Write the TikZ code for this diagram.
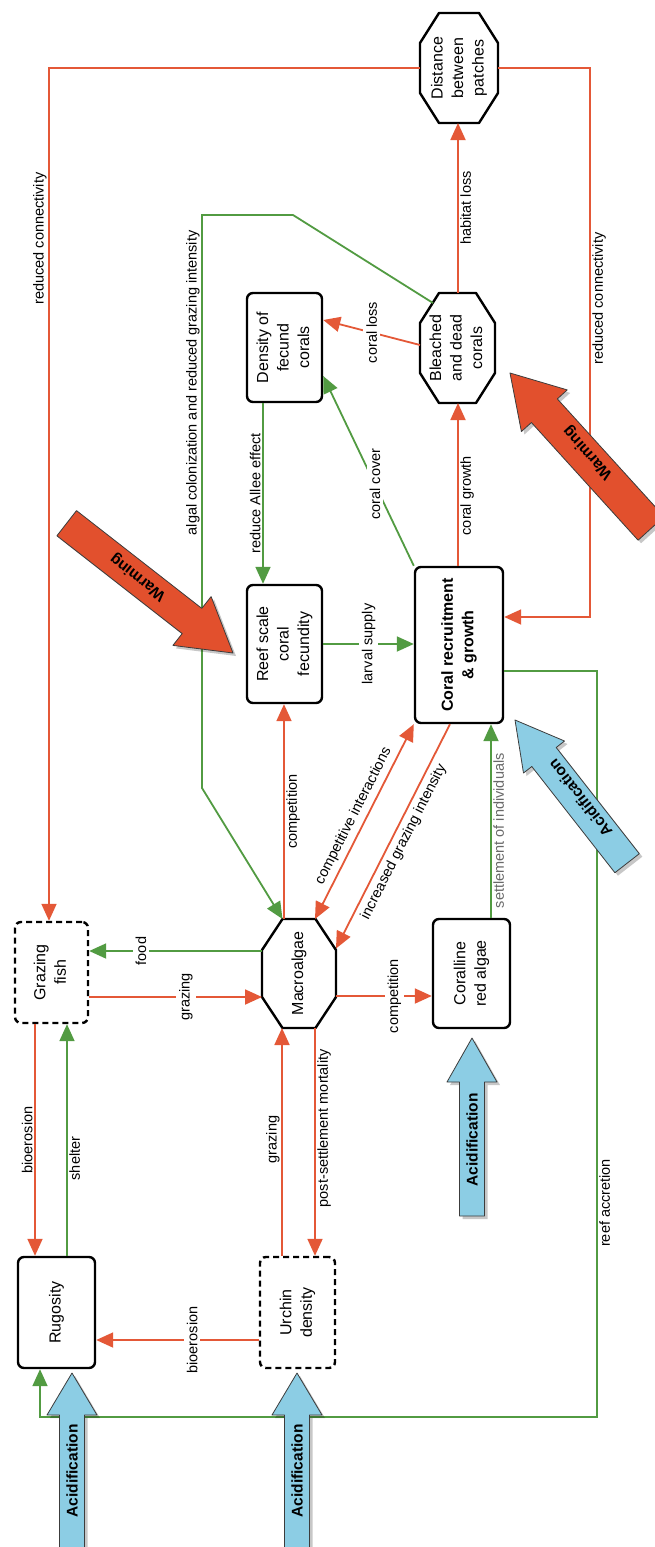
\documentclass[tikz,border=0pt]{standalone}
\usepackage{fontspec}
\setmainfont{Liberation Sans}
\usetikzlibrary{arrows.meta,calc}
\definecolor{cred}{RGB}{228,88,55}
\definecolor{cgreen}{RGB}{82,155,66}
\definecolor{warmfill}{RGB}{226,80,45}
\definecolor{acidfill}{RGB}{140,205,228}
\definecolor{graytext}{RGB}{105,105,105}
\definecolor{edgegray}{RGB}{60,60,60}
\newcommand{\nodefont}{\fontsize{16}{20.5}\selectfont}
\newcommand{\labfont}{\fontsize{14.5}{17}\selectfont}
\newcommand{\rtxt}[1]{\rotatebox{90}{#1}}
\newcommand{\mlines}[1]{\rotatebox{90}{\begin{tabular}{@{}c@{}}#1\end{tabular}}}
\newcommand{\octdraw}[3]{%
  \draw[octline] ($(#1.north west)+(#2,0)$) -- ($(#1.north east)+(-#2,0)$)
    -- ($(#1.north east)+(0,#3)$) -- ($(#1.south east)+(0,-#3)$)
    -- ($(#1.south east)+(-#2,0)$) -- ($(#1.south west)+(#2,0)$)
    -- ($(#1.south west)+(0,-#3)$) -- ($(#1.north west)+(0,#3)$) -- cycle;}
\tikzset{
  >={Triangle[length=17pt,width=15pt]},
  box/.style={draw, line width=2.4pt, rounded corners=6pt, inner sep=0pt, font=\nodefont},
  dbox/.style={box, dash pattern=on 6pt off 4pt},
  octnode/.style={inner sep=0pt, outer sep=0pt, font=\nodefont},
  octline/.style={draw, line width=2.4pt, line join=round},
  con/.style={line width=1.8pt},
  rarr/.style={con, color=cred, ->},
  garr/.style={con, color=cgreen, ->},
  lab/.style={font=\labfont, text=black, inner sep=1.5pt},
  onlab/.style={lab, fill=white, inner sep=3pt},
  blockw/.style={fill=warmfill, draw=edgegray, line width=0.8pt, line join=round},
  blocka/.style={fill=acidfill, draw=edgegray, line width=0.8pt, line join=round},
  shad/.style={fill=black, opacity=0.22, shift={(3,3)}},
  blocktext/.style={font=\fontsize{15.5}{18}\selectfont\bfseries, text=black, inner sep=0pt},
}
\begin{document}
\begin{tikzpicture}[x=1pt, y=-1pt]
\useasboundingbox (0,0) rectangle (654,1547);
\fill[white] (0,0) rectangle (654,1547);

% ---------- nodes ----------
\node[octnode, minimum width=78pt, minimum height=110pt] (dist) at (459,68) {\mlines{Distance\\between\\patches}};
\octdraw{dist}{19}{30}
\node[octnode, minimum width=75pt, minimum height=110pt] (bleach) at (457.5,348) {\mlines{Bleached\\and dead\\corals}};
\octdraw{bleach}{19}{30}
\node[box, minimum width=75pt, minimum height=109pt] (dens) at (284.5,347.5) {\mlines{Density of\\fecund\\corals}};
\node[box, minimum width=75pt, minimum height=118pt] (reef) at (284.5,644) {\mlines{Reef scale\\coral\\fecundity}};
\node[box, minimum width=88pt, minimum height=156pt, font=\nodefont\bfseries] (coral) at (459,645) {\mlines{Coral recruitment\\\& growth}};
\node[dbox, minimum width=73pt, minimum height=101pt] (fish) at (51.5,972.5) {\mlines{Grazing\\fish}};
\node[octnode, minimum width=74pt, minimum height=109pt] (macro) at (299,973.5) {\rtxt{Macroalgae}};
\octdraw{macro}{20.5}{31}
\node[box, minimum width=77pt, minimum height=109pt] (coralline) at (471.5,973.5) {\mlines{Coralline\\red algae}};
\node[box, minimum width=77pt, minimum height=111pt] (rug) at (56.5,1312.5) {\rtxt{Rugosity}};
\node[dbox, minimum width=75pt, minimum height=111pt] (urchin) at (297.5,1312.5) {\mlines{Urchin\\density}};

% ---------- red connectors ----------
\draw[rarr] (dist.west) -- (49,68) -- node[lab, left, pos=0.2]{\rtxt{reduced connectivity}} (fish.north -| 49,0);
\draw[rarr] (dist.east) -- (590,68) -- node[lab, right, pos=0.42]{\rtxt{reduced connectivity}} (590,617) -- (coral.east |- 0,617);
\draw[rarr] (bleach.north -| 458,0) -- node[lab, right]{\rtxt{habitat loss}} (dist.south -| 458,0);
\draw[rarr] (bleach.west |- 0,345) -- node[onlab]{\rtxt{coral loss}} (dens.east |- 0,320);
\draw[rarr] (coral.north -| 458,0) -- node[lab, right, pos=0.43]{\rtxt{coral growth}} (bleach.south -| 458,0);
\draw[rarr] (macro.north -| 284,0) -- node[lab, right]{\rtxt{competition}} (reef.south -| 284,0);
\draw[rarr, <->] ([xshift=16pt]macro.north) -- node[lab, sloped, above=3pt]{competitive interactions} (coral.south west);
\draw[rarr, <-] ([yshift=25pt]macro.east) -- node[lab, sloped, below=3pt]{increased grazing intensity} ([xshift=-9pt]coral.south);
\draw[rarr] (fish.east |- 0,997) -- node[onlab, pos=0.56]{\rtxt{grazing}} (macro.west |- 0,997);
\draw[rarr] (macro.east |- 0,996) -- node[onlab, pos=0.61]{\rtxt{competition}} (coralline.west |- 0,996);
\draw[rarr] (fish.south -| 35,0) -- node[lab, left]{\rtxt{bioerosion}} (rug.north -| 35,0);
\draw[rarr] (urchin.north -| 282,0) -- node[lab, left, pos=0.51]{\rtxt{grazing}} (macro.south -| 282,0);
\draw[rarr] (macro.south -| 315,0) -- node[lab, right, pos=0.44]{\rtxt{post-settlement mortality}} (urchin.north -| 315,0);
\draw[rarr] (urchin.west |- 0,1340) -- node[onlab, pos=0.41]{\rtxt{bioerosion}} (rug.east |- 0,1340);

% ---------- green connectors ----------
\draw[garr] (rug.north -| 67,0) -- node[lab, right, pos=0.42]{\rtxt{shelter}} (fish.south -| 67,0);
\draw[garr] (dens.south -| 263,0) -- node[lab, left]{\rtxt{reduce Allee effect}} (reef.north -| 263,0);
\draw[garr] (coral.north west) -- node[onlab, pos=0.43]{\rtxt{coral cover}} (dens.east |- 0,376);
\draw[garr] (reef.east) -- node[onlab]{\rtxt{larval supply}} (coral.west |- reef.east);
\draw[garr] (coralline.north -| 491,0) -- node[lab, right, text=graytext, pos=0.45]{\rtxt{settlement of individuals}} (coral.south -| 491,0);
\draw[garr] (macro.west |- 0,951) -- node[onlab, pos=0.7]{\rtxt{food}} (fish.east |- 0,951);
\draw[garr] (bleach.center) ++(-24.5,-45) -- (293,215) -- (202,215) -- node[lab, left, pos=0.293]{\rtxt{algal colonization and reduced grazing intensity}} (202,788) -- ([xshift=-16.5pt]macro.north);
\draw[garr] (coral.east |- 0,671) -- (597,671) -- node[lab, right, pos=0.713]{\rtxt{reef accretion}} (597,1417) -- (40,1417) -- (rug.south -| 40,0);

% ---------- block arrows ----------
\fill[shad] (510,373) -- (567.2,389.9) -- (557.3,398.9) -- (664.1,516.6) -- (638.1,540.2) -- (531.4,422.5) -- (521.4,431.5) -- cycle;
\path[blockw] (510,373) -- (567.2,389.9) -- (557.3,398.9) -- (664.1,516.6) -- (638.1,540.2) -- (531.4,422.5) -- (521.4,431.5) -- cycle;
\node[blocktext, rotate=132] (w2) at (588,453) {Warming};

\fill[shad] (515,720) -- (564.5,741) -- (556.2,747.5) -- (639.3,853.7) -- (614.9,872.7) -- (531.8,766.5) -- (523.5,773) -- cycle;
\path[blocka] (515,720) -- (564.5,741) -- (556.2,747.5) -- (639.3,853.7) -- (614.9,872.7) -- (531.8,766.5) -- (523.5,773) -- cycle;
\node[blocktext, rotate=128] (a4) at (580,798) {Acidification};

\fill[shad] (233,653) -- (211.1,596.6) -- (201.8,608.4) -- (76.5,510.6) -- (56.9,535.8) -- (182.2,633.6) -- (172.9,645.4) -- cycle;
\path[blockw] (233,653) -- (211.1,596.6) -- (201.8,608.4) -- (76.5,510.6) -- (56.9,535.8) -- (182.2,633.6) -- (172.9,645.4) -- cycle;
\node[blocktext, rotate=142] (w1) at (138,577) {Warming};

\fill[shad] (72,1373) -- (97,1415) -- (84.5,1415) -- (84.5,1550) -- (59.5,1550) -- (59.5,1415) -- (47,1415) -- cycle;
\path[blocka] (72,1373) -- (97,1415) -- (84.5,1415) -- (84.5,1550) -- (59.5,1550) -- (59.5,1415) -- (47,1415) -- cycle;
\node[blocktext, rotate=90] (a1) at (72,1471) {Acidification};

\fill[shad] (297,1373) -- (322,1415) -- (309.5,1415) -- (309.5,1550) -- (284.5,1550) -- (284.5,1415) -- (272,1415) -- cycle;
\path[blocka] (297,1373) -- (322,1415) -- (309.5,1415) -- (309.5,1550) -- (284.5,1550) -- (284.5,1415) -- (272,1415) -- cycle;
\node[blocktext, rotate=90] (a2) at (297,1471) {Acidification};

\fill[shad] (472,1038) -- (497,1082) -- (484.5,1082) -- (484.5,1216) -- (459.5,1216) -- (459.5,1082) -- (447,1082) -- cycle;
\path[blocka] (472,1038) -- (497,1082) -- (484.5,1082) -- (484.5,1216) -- (459.5,1216) -- (459.5,1082) -- (447,1082) -- cycle;
\node[blocktext, rotate=90] (a3) at (472,1140) {Acidification};
\end{tikzpicture}
\end{document}
